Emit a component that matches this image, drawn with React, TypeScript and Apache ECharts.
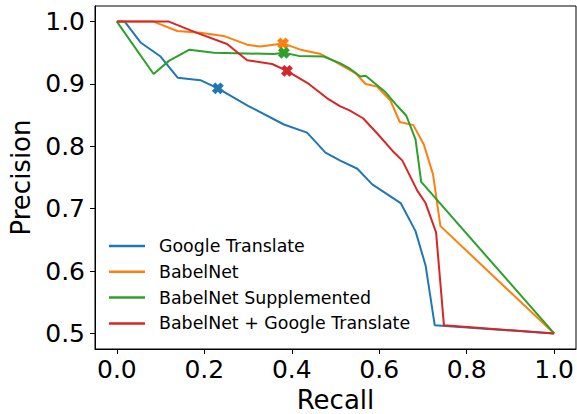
import React, { useEffect, useRef } from "react";
import * as echarts from "echarts";

const seriesNames = ["Google Translate", "BabelNet", "BabelNet Supplemented", "BabelNet + Google Translate"];
const colors = ["#1f77b4", "#ff7f0e", "#2ca02c", "#d62728"];

const googleRecall = [0, 0.018, 0.055, 0.1, 0.139, 0.191, 0.231, 0.3, 0.382, 0.435, 0.477, 0.511, 0.55, 0.584, 0.649, 0.683, 0.706, 0.727, 1.0];
const googlePrecision = [1.0, 1.0, 0.966, 0.944, 0.91, 0.906, 0.893, 0.865, 0.835, 0.822, 0.79, 0.777, 0.764, 0.739, 0.709, 0.664, 0.609, 0.513, 0.5];

const babelRecall = [0, 0.084, 0.138, 0.191, 0.244, 0.298, 0.328, 0.38, 0.42, 0.466, 0.496, 0.546, 0.569, 0.595, 0.626, 0.647, 0.678, 0.702, 0.723, 0.74, 1.0];
const babelPrecision = [1.0, 1.0, 0.985, 0.982, 0.977, 0.963, 0.96, 0.965, 0.955, 0.948, 0.937, 0.917, 0.9, 0.896, 0.873, 0.839, 0.834, 0.803, 0.755, 0.672, 0.5];

const suppRecall = [0, 0.084, 0.119, 0.166, 0.222, 0.359, 0.382, 0.416, 0.473, 0.511, 0.534, 0.557, 0.569, 0.614, 0.641, 0.662, 0.683, 0.696, 1.0];
const suppPrecision = [1.0, 0.916, 0.937, 0.955, 0.95, 0.948, 0.95, 0.945, 0.944, 0.933, 0.924, 0.912, 0.913, 0.887, 0.865, 0.849, 0.811, 0.743, 0.5];

const comboRecall = [0, 0.119, 0.183, 0.252, 0.298, 0.355, 0.389, 0.439, 0.481, 0.511, 0.531, 0.563, 0.595, 0.63, 0.653, 0.687, 0.706, 0.73, 0.748, 1.0];
const comboPrecision = [1.0, 1.0, 0.982, 0.964, 0.938, 0.932, 0.921, 0.9, 0.877, 0.864, 0.858, 0.845, 0.821, 0.793, 0.777, 0.729, 0.709, 0.662, 0.513, 0.5];

const bestRecall = [0.231, 0.38, 0.382, 0.389];
const bestPrecision = [0.893, 0.965, 0.95, 0.921];

const xTicks = [0, 0.2, 0.4, 0.6, 0.8, 1.0];
const yTicks = [0.5, 0.6, 0.7, 0.8, 0.9, 1.0];

const xMarker = "path://M3,0H7V3H10V7H7V10H3V7H0V3H3Z";

export default function App() {
  const ref = useRef<HTMLDivElement>(null);
  useEffect(() => {
    if (!ref.current) return;
    const chart = echarts.init(ref.current, undefined, { renderer: "svg" });
    const recalls = [googleRecall, babelRecall, suppRecall, comboRecall];
    const precisions = [googlePrecision, babelPrecision, suppPrecision, comboPrecision];
    const font = "DejaVu Sans";
    const lineSeries = seriesNames.map((name, i) => ({
      name,
      type: "line",
      data: recalls[i].map((r, j) => [r, precisions[i][j]]),
      symbol: "none",
      lineStyle: { color: colors[i], width: 2 },
      itemStyle: { color: colors[i] },
      z: 2 + i,
    }));
    const markerSeries = seriesNames.map((name, i) => ({
      name: name + " best",
      type: "scatter",
      data: [[bestRecall[i], bestPrecision[i]]],
      symbol: xMarker,
      symbolSize: 12,
      symbolRotate: 45,
      itemStyle: { color: colors[i], opacity: 1 },
      z: 10 + i,
    }));
    chart.setOption({
      animation: false,
      grid: {
        left: 95,
        top: 6,
        right: 1,
        bottom: 65,
        outerBoundsMode: "none",
        containLabel: false,
        show: true,
        borderColor: "#000",
        borderWidth: 1,
        backgroundColor: "#fff",
      },
      legend: {
        data: seriesNames.map((n) => ({ name: n, icon: "rect" })),
        orient: "vertical",
        left: 109,
        top: 236,
        itemWidth: 36,
        itemHeight: 2.5,
        itemGap: 5.8,
        padding: 0,
        textStyle: { fontFamily: font, fontSize: 17.4, color: "#000", lineHeight: 20, padding: [0, 0, 0, 9] },
      },
      xAxis: {
        type: "value",
        min: -0.05,
        max: 1.05,
        name: "Recall",
        nameLocation: "middle",
        nameGap: 36,
        nameTextStyle: { fontFamily: font, fontSize: 26, color: "#000" },
        splitLine: { show: false },
        axisLine: { show: true, onZero: false, lineStyle: { color: "#000", width: 1 } },
        axisTick: { show: true, inside: false, length: 5, lineStyle: { color: "#000" }, customValues: xTicks },
        axisLabel: {
          customValues: xTicks,
          fontFamily: font,
          fontSize: 25,
          color: "#000",
          margin: 8,
          formatter: (v: number) => v.toFixed(1),
        },
      },
      yAxis: {
        type: "value",
        min: 0.475,
        max: 1.025,
        name: "Precision",
        nameLocation: "middle",
        nameGap: 60,
        nameTextStyle: { fontFamily: font, fontSize: 26, color: "#000" },
        splitLine: { show: false },
        axisLine: { show: true, onZero: false, lineStyle: { color: "#000", width: 1 } },
        axisTick: { show: true, inside: false, length: 5, lineStyle: { color: "#000" }, customValues: yTicks },
        axisLabel: {
          customValues: yTicks,
          fontFamily: font,
          fontSize: 25,
          color: "#000",
          margin: 10,
          formatter: (v: number) => v.toFixed(1),
        },
      },
      series: [...lineSeries, ...markerSeries],
    });
    return () => chart.dispose();
  }, []);
  return <div ref={ref} style={{ width: 577, height: 414, position: "absolute", left: 0, top: 0 }} />;
}
